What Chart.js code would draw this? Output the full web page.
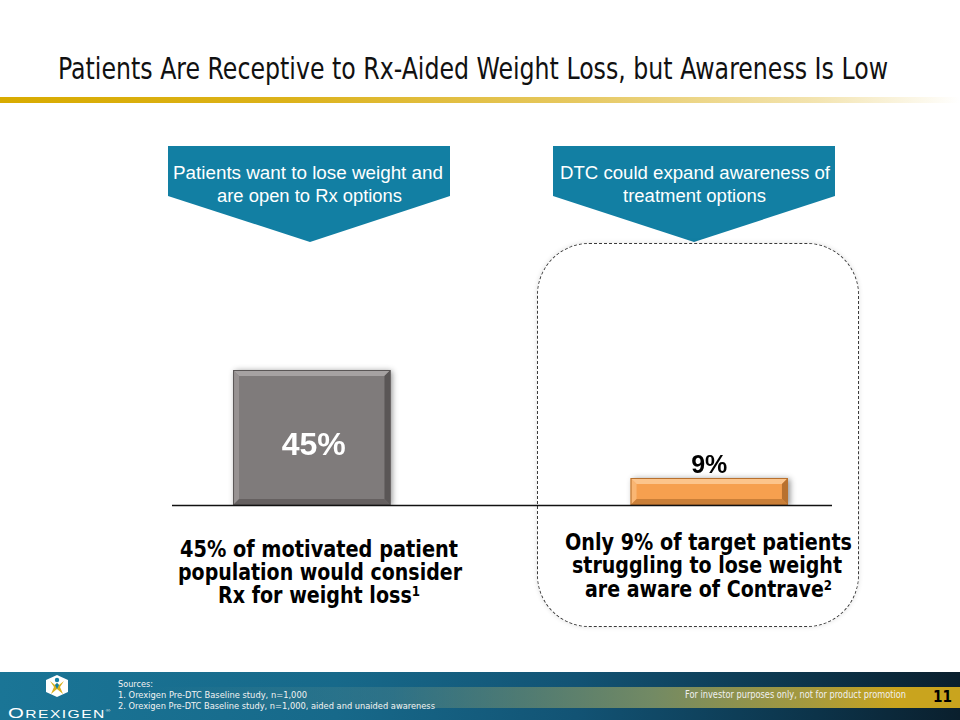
<!DOCTYPE html>
<html>
<head>
<meta charset="utf-8">
<script src="https://cdn.jsdelivr.net/npm/chart.js@4/dist/chart.umd.min.js"></script>
<style>
  html, body { margin:0; padding:0; background:#fff; width:960px; height:720px; overflow:hidden; }
  #stage { position:relative; width:960px; height:720px; }
  .t { position:absolute; white-space:nowrap; line-height:1; transform-origin:0 0; }
  .sup { position:relative; top:-0.45em; font-size:0.62em; }
</style>
</head>
<body>
<div id="stage">
  <!-- gold rule under title -->
  <div style="position:absolute;left:0;top:97px;width:960px;height:6px;background:linear-gradient(to right,#d8ab00 0%,#dcb21a 30%,#e6c860 60%,#f3e4b0 85%,rgba(255,255,255,0) 100%);"></div>

  <!-- callout arrows -->
  <svg style="position:absolute;left:0;top:0" width="960" height="720">
    <polygon points="168,146 450,146 450,196 310,242 168,196" fill="#127fa3"/>
    <polygon points="553,146 835,146 835,196 694,242 553,196" fill="#127fa3"/>
  </svg>

  <!-- dashed rounded box -->
  <div style="position:absolute;left:537px;top:243px;width:320px;height:382px;border:1px dashed #3a3a3a;border-radius:52px;box-shadow:0 0 5px rgba(0,0,0,0.12);"></div>

  <!-- chart -->
  <div style="position:absolute;left:113px;top:295px;width:795px;height:220px;">
    <canvas id="c" width="795" height="220"></canvas>
  </div>

  <!-- footer -->
  <div style="position:absolute;left:0;top:672px;width:960px;height:48px;background:linear-gradient(to right,#1a7596 0%,#17698a 35%,#125374 60%,#0c3349 85%,#0a1f2d 100%);"></div>
  <div style="position:absolute;left:150px;top:687px;width:810px;height:21px;background:linear-gradient(to right,rgba(60,130,150,0) 0%,rgba(90,140,140,0.35) 30%,rgba(125,145,100,0.9) 62%,#a79a3c 82%,#c9a41e 92%,#c9a41e 100%);"></div>

  <!-- logo icon -->
  <svg style="position:absolute;left:44px;top:674px" width="26" height="24" viewBox="0 0 26 24">
    <polygon points="13,1 24,6 24,18 13,23 2,18 2,6" fill="#ffffff"/>
    <path d="M6,7 L11,11 L13,9 L15,11 L20,7 L16,13 L19,20 L13,15 L7,20 L10,13 Z" fill="#d9b21f"/>
    <circle cx="13" cy="6" r="2.2" fill="#127fa3"/>
    <path d="M13,9 L15,11 L13,15 L11,11 Z" fill="#127fa3"/>
  </svg>
</div>

<script>
// ---------------- data ----------------
const categories = ['Motivated patients who would consider Rx', 'Target patients aware of Contrave'];
const values = [45, 9];
const valueLabels = ['45%', '9%'];
const barColors = ['#7f7b7b', '#f6a04f'];
const bevelLight = ['#a6a2a2', '#fcc58c'];
const bevelDark = ['#5a5656', '#b8712f'];

const title = 'Patients Are Receptive to Rx-Aided Weight Loss, but Awareness Is Low';
const calloutLeft = ['Patients want to lose weight and', 'are open to Rx options'];
const calloutRight = ['DTC could expand awareness of', 'treatment options'];
const noteLeft = ['45% of motivated patient', 'population would consider', 'Rx for weight loss<span class="sup">1</span>'];
const noteRight = ['Only 9% of target patients', 'struggling to lose weight', 'are aware of Contrave<span class="sup">2</span>'];
const sources = ['Sources:', '1. Orexigen Pre-DTC Baseline study, n=1,000', '2. Orexigen Pre-DTC Baseline study, n=1,000, aided and unaided awareness'];
const disclaimer = 'For investor purposes only, not for product promotion';
const pageNo = '11';

// ---------------- text helper ----------------
const stage = document.getElementById('stage');
function place(html, x0, x1, baseline, fs, family, weight, color) {
  const el = document.createElement('div');
  el.className = 't';
  el.innerHTML = html;
  el.style.left = x0 + 'px';
  el.style.top = (baseline - 0.846 * fs) + 'px';
  el.style.fontSize = fs + 'px';
  el.style.fontFamily = family;
  el.style.fontWeight = weight;
  el.style.color = color;
  stage.appendChild(el);
  const w = el.getBoundingClientRect().width;
  el.style.transform = 'scaleX(' + ((x1 - x0) / w) + ')';
  return el;
}

const NARROW = '"Liberation Sans Narrow", "DejaVu Sans Condensed", sans-serif';
const ARIAL = '"Liberation Sans", Arial, sans-serif';
const TAHOMA = '"DejaVu Sans Condensed", "DejaVu Sans", sans-serif';

place(title, 58, 888, 79, 31, NARROW, 'normal', '#111');

place(calloutLeft[0], 173, 443, 180, 17.5, ARIAL, 'normal', '#fff');
place(calloutLeft[1], 217, 402, 203, 17.5, ARIAL, 'normal', '#fff');
place(calloutRight[0], 560, 830, 180, 17.5, ARIAL, 'normal', '#fff');
place(calloutRight[1], 623, 766, 203, 17.5, ARIAL, 'normal', '#fff');

place(noteLeft[0], 180, 458, 557, 23, TAHOMA, 'bold', '#000');
place(noteLeft[1], 178, 462, 580, 23, TAHOMA, 'bold', '#000');
place(noteLeft[2], 218, 420, 603, 23, TAHOMA, 'bold', '#000');
place(noteRight[0], 565, 852, 550, 23, TAHOMA, 'bold', '#000');
place(noteRight[1], 572, 842, 573, 23, TAHOMA, 'bold', '#000');
place(noteRight[2], 585, 832, 597, 23, TAHOMA, 'bold', '#000');

place(sources[0], 118, 153, 687, 9.5, TAHOMA, 'normal', '#f2f2f2');
place(sources[1], 118, 307, 698, 9.5, TAHOMA, 'normal', '#f2f2f2');
place(sources[2], 118, 435, 709, 9.5, TAHOMA, 'normal', '#f2f2f2');
place(disclaimer, 685, 906, 698, 10, TAHOMA, 'normal', '#f0f0f0');
place(pageNo, 933, 952, 703, 15, TAHOMA, 'bold', '#000');
place('<span style="font-size:1.3em">O</span>REXIGEN<span style="font-size:0.4em;position:relative;top:-1.2em">®</span>', 8, 99, 715, 11, ARIAL, 'normal', '#fff').style.letterSpacing = '1px';

// ---------------- chart ----------------
const baselinePlugin = {
  id: 'baseline',
  afterDatasetsDraw(chart) {
    const ctx = chart.ctx;
    ctx.restore(); // end shadow
    const meta = chart.getDatasetMeta(0);
    meta.data.forEach((el, i) => {
      const p = el.getProps(['x', 'y', 'base', 'width'], true);
      const l = p.x - p.width / 2, r = p.x + p.width / 2, t = p.y, b = p.base;
      const bv = Math.min(6, (b - t) / 3);
      ctx.save();
      ctx.fillStyle = bevelLight[i];
      ctx.beginPath(); ctx.moveTo(l, t); ctx.lineTo(r, t); ctx.lineTo(r - bv, t + bv); ctx.lineTo(l + bv, t + bv); ctx.closePath(); ctx.fill();
      ctx.globalAlpha = 0.6;
      ctx.beginPath(); ctx.moveTo(l, t); ctx.lineTo(l + bv, t + bv); ctx.lineTo(l + bv, b - bv); ctx.lineTo(l, b); ctx.closePath(); ctx.fill();
      ctx.globalAlpha = 1;
      ctx.fillStyle = bevelDark[i];
      ctx.beginPath(); ctx.moveTo(r, t); ctx.lineTo(r, b); ctx.lineTo(r - bv, b - bv); ctx.lineTo(r - bv, t + bv); ctx.closePath(); ctx.fill();
      ctx.globalAlpha = 0.7;
      ctx.beginPath(); ctx.moveTo(l, b); ctx.lineTo(r, b); ctx.lineTo(r - bv, b - bv); ctx.lineTo(l + bv, b - bv); ctx.closePath(); ctx.fill();
      ctx.globalAlpha = 1;
      ctx.strokeStyle = bevelDark[i];
      ctx.lineWidth = 1;
      ctx.strokeRect(l + 0.5, t + 0.5, p.width - 1, b - t - 1);
      ctx.restore();

      // value labels
      ctx.save();
      ctx.textAlign = 'center';
      ctx.textBaseline = 'alphabetic';
      if (i === 0) {
        ctx.fillStyle = '#ffffff';
        ctx.font = 'bold 32px "Liberation Sans", Arial, sans-serif';
        ctx.fillText(valueLabels[i], p.x + 2, (t + b) / 2 + 17);
      } else {
        ctx.fillStyle = '#000000';
        ctx.font = 'bold 25px "Liberation Sans", Arial, sans-serif';
        ctx.fillText(valueLabels[i], p.x, t - 5);
      }
      ctx.restore();
    });
    // baseline
    const y0 = chart.scales.y.getPixelForValue(0);
    ctx.save();
    ctx.strokeStyle = '#111';
    ctx.lineWidth = 1.3;
    ctx.beginPath();
    ctx.moveTo(172 - 113, y0 + 0.5);
    ctx.lineTo(832 - 113, y0 + 0.5);
    ctx.stroke();
    ctx.restore();
  },
  beforeDatasetsDraw(chart) {
    const ctx = chart.ctx;
    ctx.save();
    ctx.shadowColor = 'rgba(0,0,0,0.45)';
    ctx.shadowBlur = 6;
    ctx.shadowOffsetX = 2;
    ctx.shadowOffsetY = 1;
  }
};

new Chart(document.getElementById('c'), {
  type: 'bar',
  data: {
    labels: categories,
    datasets: [{
      data: values,
      backgroundColor: barColors,
      borderWidth: 0,
      categoryPercentage: 1,
      barPercentage: 0.396
    }]
  },
  options: {
    responsive: false,
    animation: false,
    devicePixelRatio: 1,
    layout: { padding: { top: 30, bottom: 10, left: 0, right: 0 } },
    plugins: { legend: { display: false }, tooltip: { enabled: false } },
    scales: {
      x: { display: false },
      y: { display: false, min: 0, max: 60 }
    }
  },
  plugins: [baselinePlugin]
});
</script>
</body>
</html>
